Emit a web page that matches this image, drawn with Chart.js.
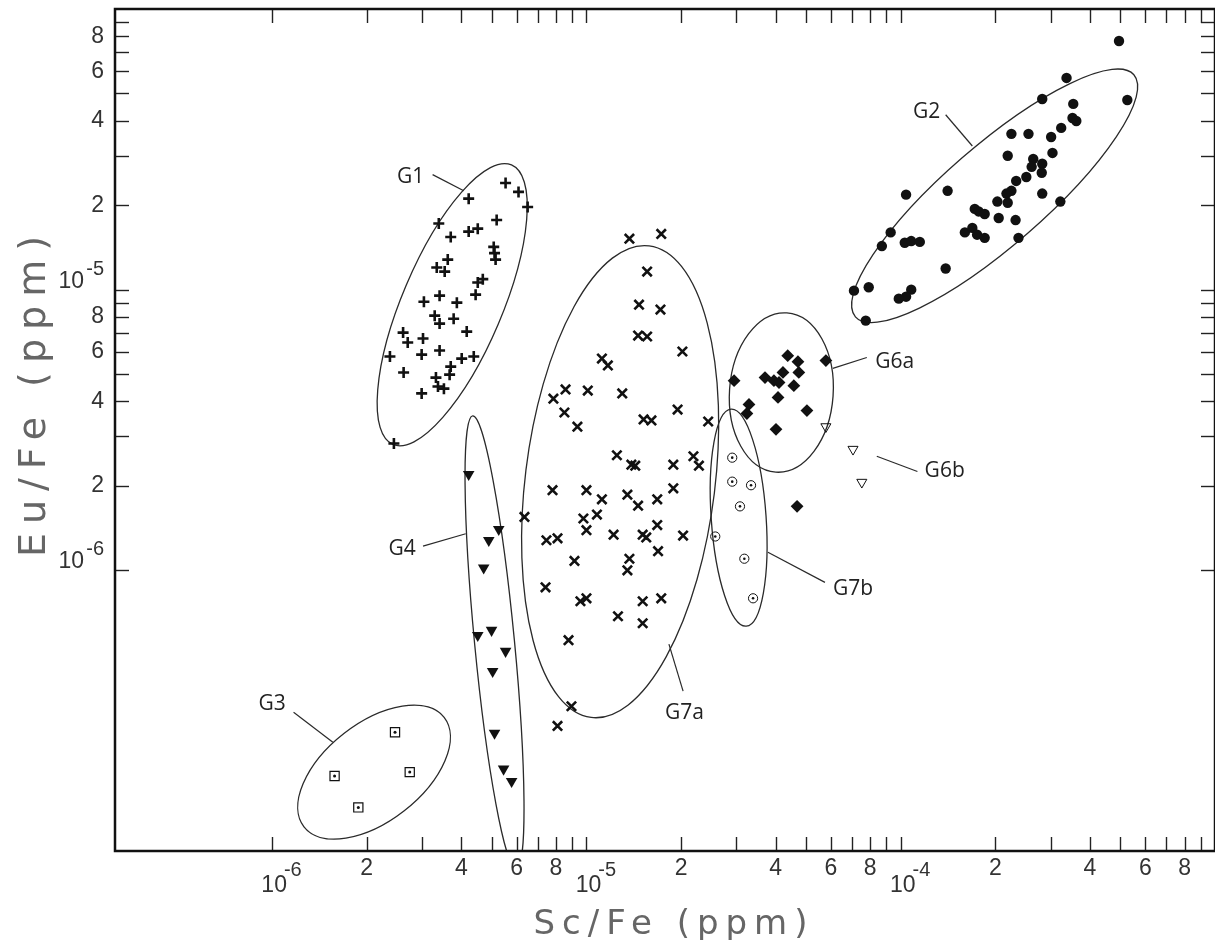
<!DOCTYPE html>
<html>
<head>
<meta charset="utf-8">
<title>Eu/Fe vs Sc/Fe</title>
<script src="https://cdn.jsdelivr.net/npm/chart.js@4.4.1/dist/chart.umd.min.js"></script>
<style>
    html, body { margin: 0; padding: 0; background: #fff; }
    #wrap { width: 1215px; height: 940px; }
</style>
</head>
<body>
<div id="wrap"><canvas id="chart" width="1215" height="940"></canvas></div>
<script>
// values: Sc/Fe (x) and Eu/Fe (y) for each group
const g1Sc = [5.53e-6, 6.08e-6, 6.50e-6, 4.22e-6, 5.18e-6, 3.39e-6, 3.70e-6, 4.22e-6, 4.51e-6, 5.07e-6, 5.10e-6, 5.14e-6, 3.62e-6, 3.34e-6, 3.54e-6, 4.51e-6, 4.68e-6, 4.44e-6, 3.04e-6, 3.41e-6, 3.87e-6, 3.29e-6, 3.41e-6, 3.78e-6, 4.16e-6, 2.61e-6, 2.70e-6, 3.02e-6, 2.37e-6, 2.99e-6, 3.41e-6, 4.01e-6, 4.38e-6, 3.70e-6, 3.67e-6, 2.62e-6, 3.32e-6, 3.37e-6, 3.52e-6, 2.99e-6, 2.44e-6];
const g1Eu = [2.40e-5, 2.23e-5, 1.97e-5, 2.11e-5, 1.77e-5, 1.72e-5, 1.54e-5, 1.61e-5, 1.65e-5, 1.42e-5, 1.35e-5, 1.28e-5, 1.28e-5, 1.20e-5, 1.16e-5, 1.06e-5, 1.09e-5, 9.60e-6, 9.06e-6, 9.52e-6, 8.99e-6, 8.08e-6, 7.57e-6, 7.88e-6, 7.09e-6, 7.03e-6, 6.48e-6, 6.70e-6, 5.78e-6, 5.87e-6, 6.07e-6, 5.68e-6, 5.78e-6, 5.32e-6, 4.98e-6, 5.07e-6, 4.86e-6, 4.52e-6, 4.44e-6, 4.27e-6, 2.83e-6];

const g2Sc = [4.95e-4, 3.37e-4, 5.26e-4, 2.82e-4, 3.54e-4, 3.52e-4, 3.62e-4, 2.25e-4, 2.55e-4, 3.24e-4, 3.01e-4, 2.19e-4, 3.04e-4, 2.64e-4, 2.82e-4, 2.61e-4, 2.81e-4, 2.51e-4, 2.33e-4, 2.25e-4, 2.17e-4, 2.82e-4, 1.41e-4, 1.04e-4, 3.22e-4, 2.19e-4, 2.03e-4, 1.72e-4, 1.77e-4, 1.85e-4, 2.05e-4, 2.32e-4, 1.60e-4, 1.69e-4, 1.75e-4, 1.85e-4, 2.37e-4, 9.29e-5, 8.71e-5, 1.03e-4, 1.08e-4, 1.15e-4, 1.39e-4, 7.10e-5, 7.91e-5, 1.08e-4, 1.04e-4, 9.86e-5, 7.74e-5];
const g2Eu = [7.69e-5, 5.68e-5, 4.74e-5, 4.78e-5, 4.59e-5, 4.09e-5, 3.99e-5, 3.59e-5, 3.59e-5, 3.77e-5, 3.50e-5, 3.00e-5, 3.07e-5, 2.92e-5, 2.81e-5, 2.74e-5, 2.61e-5, 2.52e-5, 2.44e-5, 2.25e-5, 2.20e-5, 2.20e-5, 2.25e-5, 2.18e-5, 2.06e-5, 2.04e-5, 2.06e-5, 1.94e-5, 1.90e-5, 1.86e-5, 1.80e-5, 1.77e-5, 1.60e-5, 1.66e-5, 1.57e-5, 1.53e-5, 1.53e-5, 1.60e-5, 1.43e-5, 1.47e-5, 1.49e-5, 1.48e-5, 1.19e-5, 9.92e-6, 1.02e-5, 1.00e-5, 9.44e-6, 9.29e-6, 7.76e-6];

const g3Sc = [2.46e-6, 1.58e-6, 2.74e-6, 1.88e-6];
const g3Eu = [2.65e-7, 1.85e-7, 1.91e-7, 1.43e-7];

const g4Sc = [4.22e-6, 5.26e-6, 4.89e-6, 4.71e-6, 4.51e-6, 4.99e-6, 5.53e-6, 5.03e-6, 5.10e-6, 5.45e-6, 5.78e-6];
const g4Eu = [2.20e-6, 1.40e-6, 1.28e-6, 1.02e-6, 5.87e-7, 6.12e-7, 5.15e-7, 4.37e-7, 2.63e-7, 1.96e-7, 1.77e-7];

const g6aSc = [4.37e-5, 4.71e-5, 5.78e-5, 4.22e-5, 4.74e-5, 2.95e-5, 3.70e-5, 3.95e-5, 4.10e-5, 4.57e-5, 4.07e-5, 3.29e-5, 3.24e-5, 5.03e-5, 4.01e-5, 4.68e-5];
const g6aEu = [5.82e-6, 5.54e-6, 5.59e-6, 5.07e-6, 5.07e-6, 4.74e-6, 4.86e-6, 4.74e-6, 4.67e-6, 4.55e-6, 4.13e-6, 3.90e-6, 3.62e-6, 3.71e-6, 3.18e-6, 1.69e-6];

const g6bSc = [5.78e-5, 7.05e-5, 7.52e-5];
const g6bEu = [3.25e-6, 2.70e-6, 2.06e-6];

const g7aSc = [1.37e-5, 1.73e-5, 1.56e-5, 1.47e-5, 1.72e-5, 1.46e-5, 1.56e-5, 2.02e-5, 1.12e-5, 1.17e-5, 7.85e-6, 8.58e-6, 1.01e-5, 1.30e-5, 8.51e-6, 9.36e-6, 1.95e-5, 1.52e-5, 1.61e-5, 2.44e-5, 1.25e-5, 1.39e-5, 1.43e-5, 1.89e-5, 2.19e-5, 2.28e-5, 7.80e-6, 1.00e-5, 1.12e-5, 1.35e-5, 1.46e-5, 1.68e-5, 1.89e-5, 6.35e-6, 9.78e-6, 1.08e-5, 1.00e-5, 1.22e-5, 1.51e-5, 1.55e-5, 1.68e-5, 2.03e-5, 7.46e-6, 8.09e-6, 9.16e-6, 1.37e-5, 1.35e-5, 1.69e-5, 7.41e-6, 9.57e-6, 1.00e-5, 1.51e-5, 1.73e-5, 1.26e-5, 1.51e-5, 8.77e-6, 8.96e-6, 8.09e-6];
const g7aEu = [1.52e-5, 1.58e-5, 1.16e-5, 8.84e-6, 8.49e-6, 6.86e-6, 6.81e-6, 6.02e-6, 5.68e-6, 5.37e-6, 4.09e-6, 4.41e-6, 4.37e-6, 4.27e-6, 3.65e-6, 3.25e-6, 3.74e-6, 3.45e-6, 3.42e-6, 3.39e-6, 2.57e-6, 2.38e-6, 2.36e-6, 2.38e-6, 2.55e-6, 2.36e-6, 1.93e-6, 1.93e-6, 1.79e-6, 1.86e-6, 1.70e-6, 1.79e-6, 1.96e-6, 1.55e-6, 1.53e-6, 1.58e-6, 1.39e-6, 1.34e-6, 1.34e-6, 1.31e-6, 1.45e-6, 1.33e-6, 1.28e-6, 1.30e-6, 1.08e-6, 1.10e-6, 1.00e-6, 1.17e-6, 8.70e-7, 7.76e-7, 7.95e-7, 7.76e-7, 7.95e-7, 6.86e-7, 6.48e-7, 5.64e-7, 3.28e-7, 2.79e-7];

const g7bSc = [2.91e-5, 2.91e-5, 3.34e-5, 3.08e-5, 2.57e-5, 3.18e-5, 3.39e-5];
const g7bEu = [2.52e-6, 2.07e-6, 2.01e-6, 1.69e-6, 1.32e-6, 1.10e-6, 7.95e-7];

// ticks: every 1..9 inside the labelled decades, digits only on 2,4,6,8
const xTicks = [1e-6, 2e-6, 3e-6, 4e-6, 5e-6, 6e-6, 7e-6, 8e-6, 9e-6,
                1e-5, 2e-5, 3e-5, 4e-5, 5e-5, 6e-5, 7e-5, 8e-5, 9e-5,
                1e-4, 2e-4, 3e-4, 4e-4, 5e-4, 6e-4, 7e-4, 8e-4, 9e-4];
const yTicks = [1e-6, 2e-6, 3e-6, 4e-6, 5e-6, 6e-6, 7e-6, 8e-6, 9e-6,
                1e-5, 2e-5, 3e-5, 4e-5, 5e-5, 6e-5, 7e-5, 8e-5, 9e-5];
const labelledDigits = [2, 4, 6, 8];

// group outlines: centre in data units, half axes in decades, tilt in degrees
const groupEllipses = [
    { sc: 3.74e-6, eu: 8.84e-6, major: 0.483, minor: 0.159, angle: 67 },    // G1
    { sc: 1.99e-4, eu: 2.16e-5, major: 0.587, minor: 0.159, angle: 41 },    // G2
    { sc: 2.11e-6, eu: 1.91e-7, major: 0.283, minor: 0.156, angle: 38 },    // G3
    { sc: 5.10e-6, eu: 5.54e-7, major: 0.724, minor: 0.0635, angle: 95.5 }, // G4
    { sc: 4.17e-5, eu: 4.30e-6, major: 0.254, minor: 0.165, angle: 86 },    // G6a
    { sc: 1.28e-5, eu: 2.07e-6, major: 0.756, minor: 0.302, angle: 83 },    // G7a
    { sc: 3.05e-5, eu: 1.54e-6, major: 0.346, minor: 0.0873, angle: 94 }    // G7b
];

const groupLabels = [
    { text: 'G1', sc: 2.76e-6, eu: 2.51e-5, line: [3.24e-6, 2.57e-5, 4.07e-6, 2.25e-5] },
    { text: 'G2', sc: 1.21e-4, eu: 4.30e-5, line: [1.39e-4, 4.20e-5, 1.69e-4, 3.25e-5] },
    { text: 'G3', sc: 1.00e-6, eu: 3.33e-7, line: [1.17e-6, 3.12e-7, 1.56e-6, 2.44e-7] },
    { text: 'G4', sc: 2.59e-6, eu: 1.19e-6, line: [3.02e-6, 1.22e-6, 4.13e-6, 1.35e-6] },
    { text: 'G6a', sc: 9.57e-5, eu: 5.54e-6, line: [7.80e-5, 5.73e-6, 6.08e-5, 5.24e-6] },
    { text: 'G6b', sc: 1.38e-4, eu: 2.25e-6, line: [8.39e-5, 2.55e-6, 1.13e-4, 2.25e-6] },
    { text: 'G7a', sc: 2.05e-5, eu: 3.10e-7, line: [2.03e-5, 3.71e-7, 1.83e-5, 5.46e-7] },
    { text: 'G7b', sc: 7.05e-5, eu: 8.55e-7, line: [5.74e-5, 9.06e-7, 3.78e-5, 1.16e-6] }
];

const black = '#111';
const clear = 'rgba(0,0,0,0)';
const tickFont = '"Liberation Sans", Arial, sans-serif';

function series(sc, eu) {
    return sc.map((x, i) => ({ x: x, y: eu[i] }));
}

function mantissa(v) {
    const e = Math.floor(Math.log10(v) + 1e-9);
    return Math.round(v / Math.pow(10, e));
}

function tickText(v) {
    const m = mantissa(v);
    return labelledDigits.includes(m) ? String(m) : '';
}

function line(ctx, x1, y1, x2, y2) {
    ctx.beginPath();
    ctx.moveTo(x1, y1);
    ctx.lineTo(x2, y2);
    ctx.stroke();
}

const decorations = {
    id: 'decorations',
    beforeDatasetsDraw(chart) {
        const { ctx, chartArea: a, scales: { x, y } } = chart;
        const perDecade = x.getPixelForValue(1e-5) - x.getPixelForValue(1e-6);
        ctx.save();
        ctx.beginPath();
        ctx.rect(a.left, a.top, a.right - a.left, a.bottom - a.top);
        ctx.clip();
        ctx.strokeStyle = '#2a2a2a';
        ctx.lineWidth = 1.3;
        groupEllipses.forEach(e => {
            ctx.beginPath();
            ctx.ellipse(x.getPixelForValue(e.sc), y.getPixelForValue(e.eu),
                e.major * perDecade, e.minor * perDecade,
                -e.angle * Math.PI / 180, 0, 2 * Math.PI);
            ctx.stroke();
        });

        ctx.lineWidth = 1.2;
        ctx.fillStyle = '#222';
        ctx.font = '21px "Open Sans", "Liberation Sans", sans-serif';
        ctx.textAlign = 'center';
        ctx.textBaseline = 'middle';
        groupLabels.forEach(g => {
            const l = g.line;
            line(ctx, x.getPixelForValue(l[0]), y.getPixelForValue(l[1]),
                x.getPixelForValue(l[2]), y.getPixelForValue(l[3]));
            ctx.fillText(g.text, x.getPixelForValue(g.sc), y.getPixelForValue(g.eu));
        });
        ctx.restore();
    },
    afterDraw(chart) {
        const { ctx, chartArea: a, scales: { x, y } } = chart;
        ctx.save();

        // inward tick marks on all four sides
        ctx.strokeStyle = '#222';
        ctx.lineWidth = 1.4;
        xTicks.forEach(v => {
            const px = Math.round(x.getPixelForValue(v)) + 0.5;
            line(ctx, px, a.bottom, px, a.bottom - 14);
            line(ctx, px, a.top, px, a.top + 14);
        });
        yTicks.forEach(v => {
            const py = Math.round(y.getPixelForValue(v)) + 0.5;
            line(ctx, a.left, py, a.left + 14, py);
            line(ctx, a.right, py, a.right - 14, py);
        });

        // frame
        ctx.strokeStyle = black;
        ctx.lineWidth = 2.5;
        ctx.strokeRect(a.left, a.top, a.right - a.left, a.bottom - a.top);

        // decade labels 10^n
        ctx.fillStyle = '#333';
        ctx.textBaseline = 'alphabetic';
        xTicks.filter(v => mantissa(v) === 1).forEach(v => {
            const px = x.getPixelForValue(v);
            ctx.font = '23px ' + tickFont;
            ctx.textAlign = 'center';
            ctx.fillText('10', px + 2, a.bottom + 41);
            const w = ctx.measureText('10').width;
            ctx.font = '20px ' + tickFont;
            ctx.textAlign = 'left';
            ctx.fillText(String(Math.round(Math.log10(v))), px + 2 + w / 2 - 3, a.bottom + 25);
        });
        yTicks.filter(v => mantissa(v) === 1).forEach(v => {
            const py = y.getPixelForValue(v);
            ctx.font = '23px ' + tickFont;
            ctx.textAlign = 'right';
            ctx.fillText('10', a.left - 31, py - 2);
            ctx.font = '20px ' + tickFont;
            ctx.fillText(String(Math.round(Math.log10(v))), a.left - 11, py - 15);
        });

        // axis titles
        ctx.fillStyle = '#666';
        ctx.textAlign = 'center';
        ctx.font = '34px "DejaVu Sans", sans-serif';
        ctx.letterSpacing = '7px';
        ctx.fillText('Sc/Fe (ppm)', 674, 934);
        ctx.translate(45, 396);
        ctx.rotate(-Math.PI / 2);
        ctx.font = '38px "DejaVu Sans", sans-serif';
        ctx.letterSpacing = '9px';
        ctx.fillText('Eu/Fe (ppm)', 4, 0);
        ctx.restore();
    }
};

function fitBox(size) {
    return scale => {
        if (scale.isHorizontal()) scale.height = size; else scale.width = size;
        scale.paddingLeft = scale.paddingRight = scale.paddingTop = scale.paddingBottom = 0;
    };
}

const ctx = document.getElementById('chart').getContext('2d');
new Chart(ctx, {
    type: 'scatter',
    data: {
        datasets: [
            // centre dots first so they are painted on top of their open markers
            { label: 'G3 dot', data: series(g3Sc, g3Eu), pointStyle: 'circle', pointRadius: 1.5, pointBorderWidth: 0, pointBackgroundColor: black },
            { label: 'G7b dot', data: series(g7bSc, g7bEu), pointStyle: 'circle', pointRadius: 1.3, pointBorderWidth: 0, pointBackgroundColor: black },
            { label: 'G1', data: series(g1Sc, g1Eu), pointStyle: 'cross', pointRadius: 5.5, pointBorderWidth: 2.6, pointBorderColor: black },
            { label: 'G2', data: series(g2Sc, g2Eu), pointStyle: 'circle', pointRadius: 5.2, pointBorderWidth: 0, pointBackgroundColor: black },
            { label: 'G3', data: series(g3Sc, g3Eu), pointStyle: 'rect', pointRadius: 6.5, pointBorderWidth: 1.2, pointBorderColor: black, pointBackgroundColor: clear },
            { label: 'G4', data: series(g4Sc, g4Eu), pointStyle: 'triangle', pointRotation: 180, pointRadius: 6.7, pointBorderWidth: 0, pointBackgroundColor: black },
            { label: 'G6a', data: series(g6aSc, g6aEu), pointStyle: 'rectRot', pointRadius: 6.4, pointBorderWidth: 0, pointBackgroundColor: black },
            { label: 'G6b', data: series(g6bSc, g6bEu), pointStyle: 'triangle', pointRotation: 180, pointRadius: 5.8, pointBorderWidth: 1, pointBorderColor: black, pointBackgroundColor: clear },
            { label: 'G7a', data: series(g7aSc, g7aEu), pointStyle: 'crossRot', pointRadius: 6.6, pointBorderWidth: 2.6, pointBorderColor: black },
            { label: 'G7b', data: series(g7bSc, g7bEu), pointStyle: 'circle', pointRadius: 4.6, pointBorderWidth: 1, pointBorderColor: black, pointBackgroundColor: clear }
        ]
    },
    options: {
        responsive: false,
        animation: false,
        devicePixelRatio: 1,
        events: [],
        layout: { autoPadding: false, padding: { top: 9, right: 0, bottom: 0, left: 0 } },
        plugins: {
            legend: { display: false },
            tooltip: { enabled: false }
        },
        scales: {
            x: {
                type: 'logarithmic',
                min: 3.162e-7,
                max: 1e-3,
                grid: { display: false, drawTicks: false },
                border: { display: false },
                afterBuildTicks: scale => { scale.ticks = xTicks.map(v => ({ value: v })); },
                afterFit: fitBox(89),
                ticks: {
                    autoSkip: false, maxRotation: 0, minRotation: 0, padding: 4,
                    color: '#333', font: { family: tickFont, size: 23 },
                    callback: v => tickText(v)
                }
            },
            y: {
                type: 'logarithmic',
                min: 1e-7,
                max: 1e-4,
                grid: { display: false, drawTicks: false },
                border: { display: false },
                afterBuildTicks: scale => { scale.ticks = yTicks.map(v => ({ value: v })); },
                afterFit: fitBox(115),
                ticks: {
                    autoSkip: false, padding: 11,
                    color: '#333', font: { family: tickFont, size: 23 },
                    callback: v => tickText(v)
                }
            }
        }
    },
    plugins: [decorations]
});
</script>
</body>
</html>
